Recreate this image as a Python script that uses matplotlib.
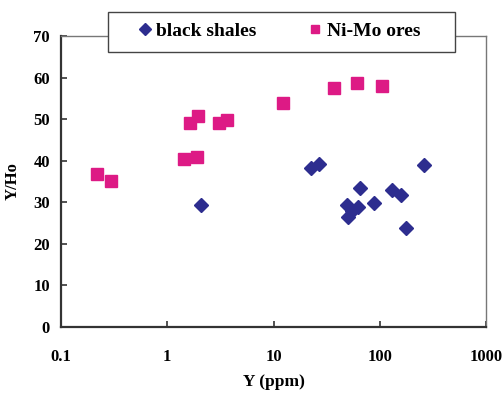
import matplotlib.pyplot as plt
from matplotlib.patches import Rectangle

# black shales (diamonds)
shale_y = [2.1, 22.4, 26.8, 48.9, 50.4, 55, 62.4, 65.2, 89, 131, 159, 178, 261]
shale_yho = [29.3, 38.3, 39.2, 29.3, 26.5, 27.9, 28.9, 33.5, 29.9, 32.9, 31.8, 23.9, 39.0]

# Ni-Mo ores (squares)
ore_y = [0.217, 0.295, 1.45, 1.89, 1.65, 1.93, 3.09, 3.63, 12.2, 37.3, 60.5, 104]
ore_yho = [36.8, 35.2, 40.5, 40.8, 49.0, 50.8, 49.1, 49.8, 54.0, 57.4, 58.8, 58.0]

xticks = [0.1, 1, 10, 100, 1000]
xlabels = ['0.1', '1', '10', '100', '1000']
yticks = [0, 10, 20, 30, 40, 50, 60, 70]

plt.rcParams['font.family'] = ['Liberation Serif', 'DejaVu Serif']
plt.rcParams['font.weight'] = 'bold'

W, H = 504, 394
fig = plt.figure(figsize=(W / 100, H / 100), dpi=100)
ax = fig.add_axes([61 / W, 1 - 327 / H, 425 / W, 291 / H])

ax.plot(shale_y, shale_yho, 'D', color='#2D2D8F', ms=7.5, mec='#2D2D8F',
        ls='none', label='black shales')
ax.plot(ore_y, ore_yho, 's', color='#DD1A85', ms=8, mec='#DD1A85',
        ls='none', label='Ni-Mo ores')

ax.set_xscale('log')
ax.set_xlim(0.1, 1000)
ax.set_ylim(0, 70)
ax.set_xticks(xticks)
ax.set_xticklabels(xlabels)
ax.minorticks_off()
ax.set_yticks(yticks)
ax.tick_params(direction='in', length=4, width=1.2, labelsize=12, pad=8,
               color='#333333')
ax.tick_params(axis='x', pad=16)
for lab in ax.get_xticklabels() + ax.get_yticklabels():
    lab.set_fontweight('bold')

for s in ['left', 'bottom']:
    ax.spines[s].set_color('#333333')
    ax.spines[s].set_linewidth(1.6)
for s in ['top', 'right']:
    ax.spines[s].set_color('#777777')
    ax.spines[s].set_linewidth(1.0)

ax.set_xlabel('Y (ppm)', fontsize=12.5, fontweight='bold', labelpad=6)
ax.set_ylabel('Y/Ho', fontsize=12, fontweight='bold', labelpad=9)

# legend box sits over the top spine
box = Rectangle((108 / W, 1 - 52 / H), 347 / W, 40 / H,
                transform=fig.transFigure, facecolor='white',
                edgecolor='#444444', linewidth=1.0, zorder=3)
fig.add_artist(box)

leg = fig.legend(loc='center left', bbox_to_anchor=(137 / W, 1 - 31 / H),
                 ncol=2, frameon=False, fontsize=14,
                 handletextpad=0.2, columnspacing=2.6, borderpad=0,
                 borderaxespad=0, handlelength=0.8, markerscale=0.75)
leg.set_zorder(5)
for t in leg.get_texts():
    t.set_fontweight('bold')

fig.savefig('out.png', dpi=100)
